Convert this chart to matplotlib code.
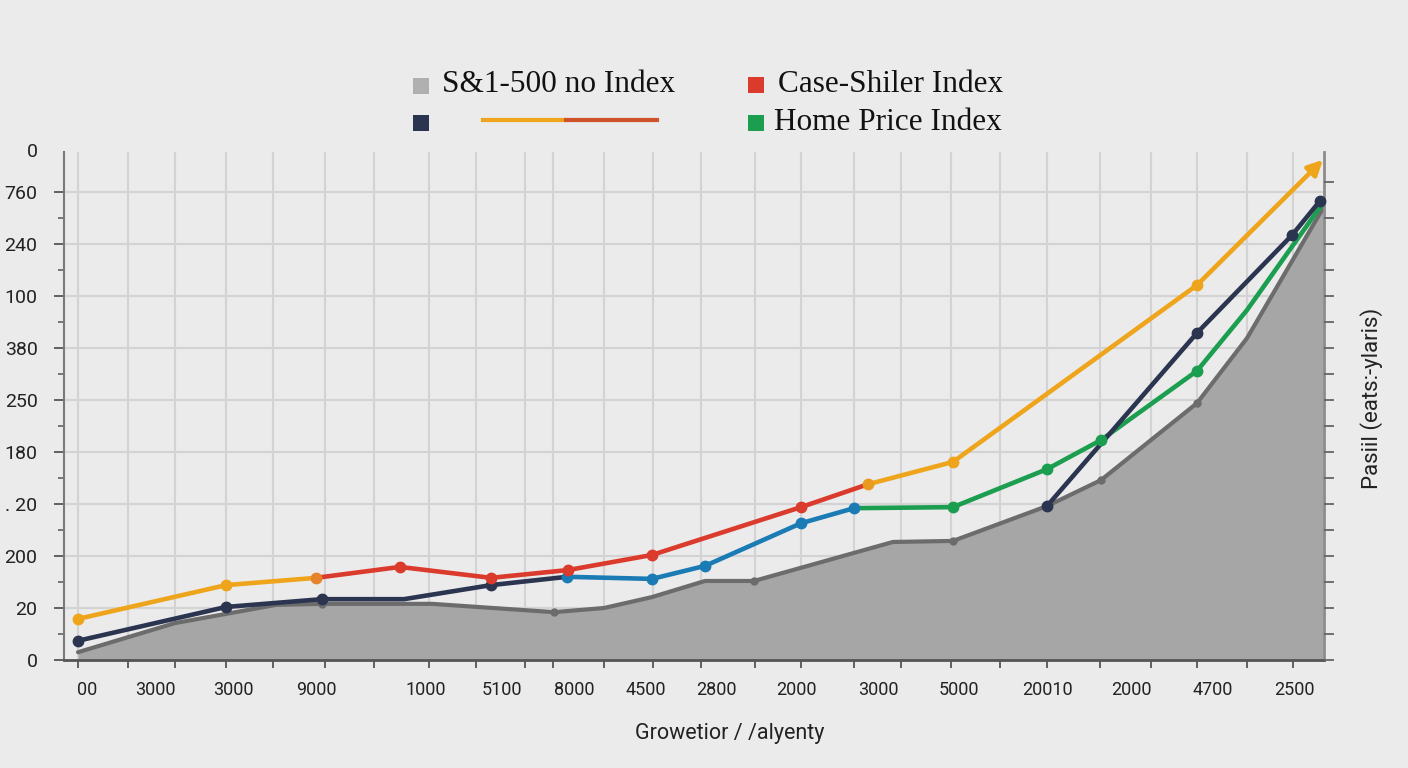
import numpy as np
import matplotlib
matplotlib.use('Agg')
from matplotlib import pyplot as plt
from matplotlib.patches import Rectangle
from matplotlib.lines import Line2D
import matplotlib.transforms as mtransforms


# Series (x in periods, y in grid units)
sp_x = [0.28, 2.22, 4.24, 5.16, 7.36, 9.80, 10.80, 11.76, 12.82, 13.80,
        16.58, 17.78, 19.66, 20.74, 22.66, 23.66, 25.18]
sp_y = [0.15, 0.71, 1.06, 1.08, 1.08, 0.92, 1.00, 1.21, 1.52, 1.52,
        2.27, 2.29, 2.96, 3.46, 4.94, 6.19, 8.69]
sp_marks = [3, 5, 9, 11, 13, 14]

cs_x = [0.28, 3.24, 5.04, 6.72, 8.54, 10.08, 11.76, 14.74, 16.08, 17.78, 22.66, 25.18]
cs_y = [0.79, 1.44, 1.58, 1.79, 1.58, 1.73, 2.02, 2.94, 3.38, 3.81, 7.21, 9.62]

hp_x = [0.28, 3.24, 5.16, 6.80, 8.54, 10.06, 11.76, 12.82, 14.74, 15.80,
        17.78, 19.66, 20.74, 22.66, 23.66, 25.18]
hp_y = [0.37, 1.02, 1.17, 1.17, 1.44, 1.60, 1.56, 1.81, 2.63, 2.92,
        2.94, 3.67, 4.23, 5.56, 6.73, 8.79]

nv_x = [19.66, 22.66, 24.56, 25.12]
nv_y = [2.96, 6.29, 8.17, 8.83]

y_ticks = [0, 1, 2, 3, 4, 5, 6, 7, 8, 9]
y_labels = ['0', '20', '200', '. 20', '180', '250', '380', '100', '240', '760']

grid_x = [0.28, 1.28, 2.22, 3.24, 4.18, 5.22, 6.2, 7.3, 8.24, 9.22, 9.78, 10.8,
          11.78, 12.74, 13.82, 14.74, 15.8, 16.74, 17.74, 18.72, 19.66, 20.72,
          21.74, 22.66, 23.66, 24.58]
x_label_pos = [0.46, 1.82, 3.38, 5.04, 7.24, 8.76, 10.2, 11.64, 13.04, 14.64,
               16.28, 17.9, 19.66, 21.34, 22.98, 24.6]
x_labels = ['00', '3000', '3000', '9000', '1000', '5100', '8000', '4500', '2800',
            '2000', '3000', '5000', '20010', '2000', '4700', '2500']

# colours
bg = '#ebebeb'
c_area = '#a6a6a6'
c_edge = '#6c6c6c'
c_yel = '#eea51c'
c_red = '#db3b2c'
c_org = '#e5822a'
c_navy = '#2b3550'
c_blue = '#1a7bb5'
c_green = '#1c9e50'

W, H = 1408, 768
fig = plt.figure(figsize=(W / 100, H / 100), dpi=100, facecolor=bg)
ax = fig.add_axes([64 / W, 108 / H, 1260 / W, 508 / H], facecolor=bg)
ax.set_xlim(0, 25.2)
ax.set_ylim(0, 9.77)

# grid
for gx in grid_x:
    ax.axvline(gx, color='#d3d3d3', lw=1.5, zorder=0)
for gy in y_ticks[1:]:
    ax.axhline(gy, color='#d3d3d3', lw=1.5, zorder=0)

# gray area
ax.fill_between(sp_x, 0, sp_y, color=c_area, zorder=1, lw=0)
ax.plot(sp_x, sp_y, color=c_edge, lw=3, zorder=2, solid_capstyle='round')
ax.plot([sp_x[i] for i in sp_marks], [sp_y[i] for i in sp_marks], 'o',
        color=c_edge, ms=5, zorder=2)

lw = 3.3
ms = 7.5


def seg(xs, ys, a, b, color, z=4):
    ax.plot(xs[a:b + 1], ys[a:b + 1], color=color, lw=lw, zorder=z,
            solid_capstyle='round', clip_on=False)


def dots(xs, ys, idx, color, z=5):
    ax.plot([xs[i] for i in idx], [ys[i] for i in idx], 'o', color=color,
            ms=ms, zorder=z, clip_on=False)


# home price index: navy -> blue -> green
seg(hp_x, hp_y, 0, 5, c_navy)
seg(hp_x, hp_y, 5, 9, c_blue)
seg(hp_x, hp_y, 9, 15, c_green)
dots(hp_x, hp_y, [0, 1, 2, 4], c_navy)
dots(hp_x, hp_y, [5, 6, 7, 8, 9], c_blue)
dots(hp_x, hp_y, [10, 11, 12, 13], c_green)

# late navy run
ax.plot(nv_x, nv_y, color=c_navy, lw=lw, zorder=4, clip_on=False)
ax.plot(nv_x, nv_y, 'o', color=c_navy, ms=ms, zorder=6, clip_on=False)

# case-shiler: yellow -> red -> yellow with arrow
seg(cs_x, cs_y, 0, 2, c_yel)
seg(cs_x, cs_y, 2, 8, c_red)
seg(cs_x, cs_y, 8, 10, c_yel)
ax.annotate('', xy=(cs_x[11], cs_y[11]), xytext=(cs_x[10], cs_y[10]),
            arrowprops=dict(arrowstyle='-|>', color=c_yel, lw=lw,
                            mutation_scale=22, shrinkA=0, shrinkB=0),
            zorder=4, annotation_clip=False)
dots(cs_x, cs_y, [0, 1], c_yel)
dots(cs_x, cs_y, [2], c_org)
dots(cs_x, cs_y, [3, 4, 5, 6, 7], c_red)
dots(cs_x, cs_y, [8], '#eb9a20')
dots(cs_x, cs_y, [9, 10], c_yel)

# spines
ax.spines['top'].set_visible(False)
ax.spines['left'].set_color('#7a7a7a')
ax.spines['left'].set_linewidth(1.5)
ax.spines['bottom'].set_color('#555555')
ax.spines['bottom'].set_linewidth(2)
ax.spines['right'].set_color('#8c8c8c')
ax.spines['right'].set_linewidth(2)

# y ticks
ax.set_yticks(y_ticks)
ax.set_yticklabels(y_labels, fontsize=14, family='Roboto', color='#222222')
ax.set_yticks(np.arange(0.5, 9, 1), minor=True)
ax.tick_params(axis='y', which='major', length=7, width=1.3, color='#555555', pad=12)
ax.tick_params(axis='y', which='minor', length=4, width=1.1, color='#555555')
ax.text(-0.021, 9.77, '0', transform=mtransforms.blended_transform_factory(ax.transAxes, ax.transData),
        ha='right', va='center', fontsize=14, family='Roboto', color='#222222')

# x ticks: marks at grid, labels placed separately
ax.xaxis.remove_overlapping_locs = False
ax.set_xticks(grid_x)
ax.set_xticklabels([])
ax.tick_params(axis='x', which='major', length=6, width=1.3, color='#555555')
ax.set_xticks(x_label_pos, minor=True)
ax.set_xticklabels(x_labels, minor=True, fontsize=13, family='Roboto', color='#222222')
ax.tick_params(axis='x', which='minor', length=0, pad=15)

ax.set_xlabel('Growetior / /alyenty', fontsize=15.5, family='Roboto', color='#222222')
ax.xaxis.set_label_coords((730 - 64) / 1260, -(733 - 660) / 508)
ax.xaxis.label.set_va('center')

# right side ticks
ax2 = ax.twinx()
ax2.set_ylim(0, 9.77)
ax2.set_yticks(list(np.arange(0, 9, 0.5)) + [9.2])
ax2.set_yticklabels([])
ax2.tick_params(axis='y', length=7, width=1.3, color='#666666')
for s in ['top', 'left', 'bottom', 'right']:
    ax2.spines[s].set_visible(False)
fig.text(1372 / W, 1 - 398 / H, 'Pasiil (eats:-ylaris)', rotation=90, ha='center', va='center',
         fontsize=16, family='Roboto', color='#222222')


# legend built by hand
def px(x, y):
    return x / W, 1 - y / H


def square(x, y, color):
    fx, fy = px(x, y + 16)
    fig.add_artist(Rectangle((fx, fy), 16 / W, 16 / H, transform=fig.transFigure,
                             color=color, lw=0))


square(413, 78, '#b0b0b0')
square(748, 77, c_red)
square(413, 115, c_navy)
square(748, 115, c_green)
fig.add_artist(Line2D([483 / W, 566 / W], [1 - 120 / H] * 2, color=c_yel, lw=3,
                      transform=fig.transFigure))
fig.add_artist(Line2D([566 / W, 657 / W], [1 - 120 / H] * 2, color='#d0522a', lw=3,
                      transform=fig.transFigure))
tx = dict(fontsize=22.5, family='Liberation Serif', color='#111111', va='center')
fig.text(*px(442, 84), 'S&1-500 no Index', **tx)
fig.text(*px(778, 84), 'Case-Shiler Index', **tx)
fig.text(*px(774, 122), 'Home Price Index', **tx)

fig.savefig('out.png', dpi=100, facecolor=bg)
